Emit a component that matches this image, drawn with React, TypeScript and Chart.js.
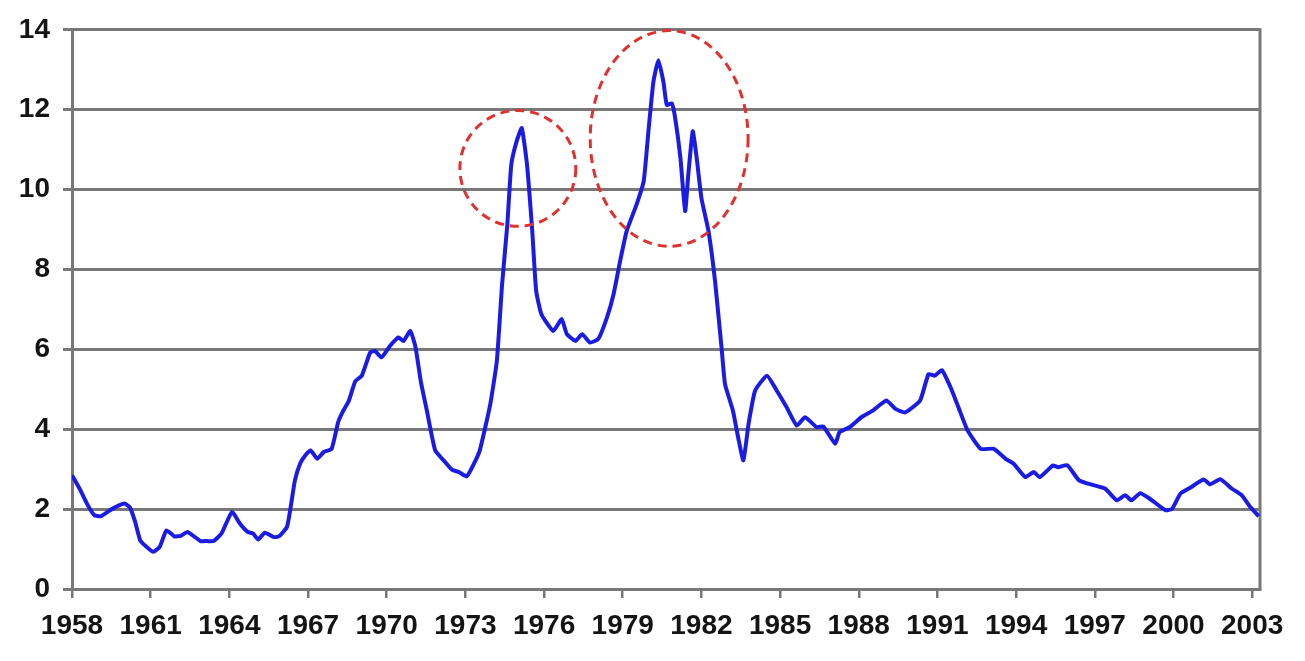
import React, { useEffect, useRef } from "react";
import { Chart, registerables } from "chart.js";

Chart.register(...registerables);

// Time axis (fractional years) and values
const years: number[] = [
  1958.0, 1958.3, 1958.6, 1958.85, 1959.1, 1959.4, 1959.75, 1960.0, 1960.2, 1960.4,
  1960.6, 1960.85, 1961.1, 1961.35, 1961.6, 1961.9, 1962.15, 1962.4, 1962.65, 1962.9,
  1963.15, 1963.4, 1963.7, 1964.1, 1964.4, 1964.7, 1964.9, 1965.1, 1965.35, 1965.7,
  1965.9, 1966.2, 1966.35, 1966.5, 1966.7, 1966.9, 1967.1, 1967.35, 1967.6, 1967.9,
  1968.15, 1968.35, 1968.55, 1968.8, 1969.05, 1969.37, 1969.55, 1969.8, 1970.13, 1970.45,
  1970.64, 1970.9, 1971.1, 1971.3, 1971.53, 1971.85, 1972.2, 1972.5, 1972.75, 1973.05,
  1973.3, 1973.55, 1973.95, 1974.2, 1974.4, 1974.6, 1974.75, 1974.95, 1975.15, 1975.35,
  1975.55, 1975.7, 1975.9, 1976.35, 1976.67, 1976.87, 1977.2, 1977.45, 1977.75, 1978.07,
  1978.4, 1978.65, 1978.9, 1979.15, 1979.53, 1979.8, 1979.98, 1980.17, 1980.36, 1980.55,
  1980.68, 1980.87, 1981.0, 1981.2, 1981.38, 1981.5, 1981.67, 1981.82, 1982.0, 1982.27,
  1982.52, 1982.78, 1982.9, 1983.2, 1983.4, 1983.6, 1983.8, 1984.05, 1984.5, 1984.87,
  1985.25, 1985.64, 1985.95, 1986.4, 1986.65, 1987.1, 1987.27, 1987.65, 1988.1, 1988.55,
  1989.05, 1989.4, 1989.77, 1990.34, 1990.66, 1990.9, 1991.17, 1991.5, 1991.8, 1992.15,
  1992.65, 1993.15, 1993.6, 1993.9, 1994.35, 1994.67, 1994.9, 1995.4, 1995.6, 1995.95,
  1996.4, 1996.95, 1997.4, 1997.84, 1998.16, 1998.4, 1998.73, 1999.1, 1999.7, 1999.95,
  2000.27, 2000.65, 2001.15, 2001.4, 2001.78, 2002.23, 2002.6, 2002.93, 2003.25,
];

const values: number[] = [
  2.85, 2.5, 2.1, 1.85, 1.82, 1.95, 2.08, 2.14, 2.05, 1.7,
  1.22, 1.05, 0.93, 1.06, 1.47, 1.32, 1.33, 1.43, 1.32, 1.2,
  1.2, 1.2, 1.39, 1.93, 1.64, 1.43, 1.39, 1.24, 1.41, 1.3,
  1.32, 1.56, 2.1, 2.72, 3.14, 3.35, 3.47, 3.26, 3.43, 3.51,
  4.18, 4.47, 4.7, 5.2, 5.34, 5.92, 5.96, 5.8, 6.09, 6.3,
  6.21, 6.46, 6.05, 5.2, 4.47, 3.47, 3.2, 2.98, 2.93, 2.82,
  3.1, 3.47, 4.63, 5.71, 7.63, 9.13, 10.62, 11.2, 11.54, 10.62,
  8.96, 7.46, 6.88, 6.46, 6.76, 6.38, 6.21, 6.38, 6.17, 6.26,
  6.8, 7.38, 8.21, 8.96, 9.63, 10.21, 11.46, 12.7, 13.24, 12.7,
  12.12, 12.16, 11.79, 10.79, 9.46, 10.37, 11.46, 10.79, 9.79, 8.96,
  7.71, 5.96, 5.13, 4.47, 3.8, 3.22, 4.14, 4.97, 5.34, 4.97,
  4.55, 4.09, 4.3, 4.05, 4.07, 3.64, 3.93, 4.05, 4.3, 4.47,
  4.72, 4.51, 4.42, 4.72, 5.38, 5.34, 5.48, 5.05, 4.55, 3.97,
  3.51, 3.51, 3.26, 3.14, 2.8, 2.93, 2.8, 3.09, 3.05, 3.1,
  2.72, 2.6, 2.51, 2.22, 2.35, 2.22, 2.4, 2.26, 1.97, 2.01,
  2.39, 2.54, 2.74, 2.62, 2.75, 2.51, 2.35, 2.05, 1.82,
];

const xTickYears: number[] = [1958, 1961, 1964, 1967, 1970, 1973, 1976, 1979, 1982, 1985, 1988, 1991, 1994, 1997, 2000, 2003];
const yTickValues: number[] = [0, 2, 4, 6, 8, 10, 12, 14];

// Highlight ellipses, in data units (year, value)
const highlightCenterYears: number[] = [1975.0, 1980.77];
const highlightCenterValues: number[] = [10.53, 11.28];
const highlightHalfWidthYears: number[] = [2.21, 3.01];
const highlightHalfHeightValues: number[] = [1.45, 2.7];

const GRID = "#787878";
const FONT = { family: "'Liberation Sans', Arial, sans-serif", size: 28, weight: "bold" as const };

const framePlugin = {
  id: "frameRight",
  beforeDatasetsDraw(chart: any) {
    const { ctx, chartArea } = chart;
    ctx.save();
    ctx.strokeStyle = GRID;
    ctx.lineWidth = 3;
    ctx.beginPath();
    ctx.moveTo(chartArea.right, chartArea.top - 1.5);
    ctx.lineTo(chartArea.right, chartArea.bottom);
    ctx.stroke();
    ctx.restore();
  },
};

const ellipsePlugin = {
  id: "highlightEllipses",
  afterDatasetsDraw(chart: any) {
    const { ctx } = chart;
    const xs = chart.scales.x;
    const ys = chart.scales.y;
    ctx.save();
    ctx.strokeStyle = "#e0312f";
    ctx.lineWidth = 3;
    ctx.setLineDash([9, 6]);
    highlightCenterYears.forEach((cy, i) => {
      const cx = xs.getPixelForValue(cy);
      const cyp = ys.getPixelForValue(highlightCenterValues[i]);
      const rx = Math.abs(xs.getPixelForValue(cy + highlightHalfWidthYears[i]) - cx);
      const ry = Math.abs(ys.getPixelForValue(highlightCenterValues[i] + highlightHalfHeightValues[i]) - cyp);
      ctx.beginPath();
      ctx.ellipse(cx, cyp, rx, ry, 0, 0, Math.PI * 2);
      ctx.stroke();
    });
    ctx.restore();
  },
};

export default function App() {
  const ref = useRef<HTMLCanvasElement | null>(null);

  useEffect(() => {
    if (!ref.current) return;
    const data = years.map((x, i) => ({ x, y: values[i] }));
    const chart = new Chart(ref.current, {
      type: "line",
      data: {
        datasets: [
          {
            data,
            borderColor: "#1b1be6",
            borderWidth: 4,
            pointRadius: 0,
            tension: 0.15,
            fill: false,
          },
        ],
      },
      options: {
        animation: false,
        responsive: true,
        maintainAspectRatio: false,
        layout: { padding: { top: 28, right: 45, left: 0, bottom: 0 } },
        plugins: { legend: { display: false }, tooltip: { enabled: false }, title: { display: false } },
        scales: {
          x: {
            type: "linear",
            min: 1958,
            max: 2003.3,
            afterBuildTicks: (scale: any) => {
              scale.ticks = xTickYears.map((v) => ({ value: v }));
            },
            afterFit: (scale: any) => {
              scale.height = 72;
            },
            grid: { drawOnChartArea: false, drawTicks: true, tickLength: 9, color: GRID, lineWidth: 2.5 },
            border: { display: true, color: GRID, width: 3 },
            ticks: {
              autoSkip: false,
              maxRotation: 0,
              padding: 11,
              color: "#141414",
              font: FONT,
              callback: (v: any) => String(v),
            },
          },
          y: {
            min: 0,
            max: 14,
            afterBuildTicks: (scale: any) => {
              scale.ticks = yTickValues.map((v) => ({ value: v }));
            },
            afterFit: (scale: any) => {
              scale.width = 72;
            },
            grid: { color: GRID, lineWidth: 3, drawTicks: true, tickLength: 9 },
            border: { display: true, color: GRID, width: 3 },
            ticks: {
              padding: 13,
              color: "#141414",
              font: FONT,
              callback: (v: any) => String(v),
            },
          },
        },
      },
      plugins: [framePlugin, ellipsePlugin],
    });
    return () => chart.destroy();
  }, []);

  return (
    <div style={{ position: "fixed", left: 0, top: 0, width: 1305, height: 661, background: "#fff" }}>
      <canvas ref={ref} />
    </div>
  );
}
